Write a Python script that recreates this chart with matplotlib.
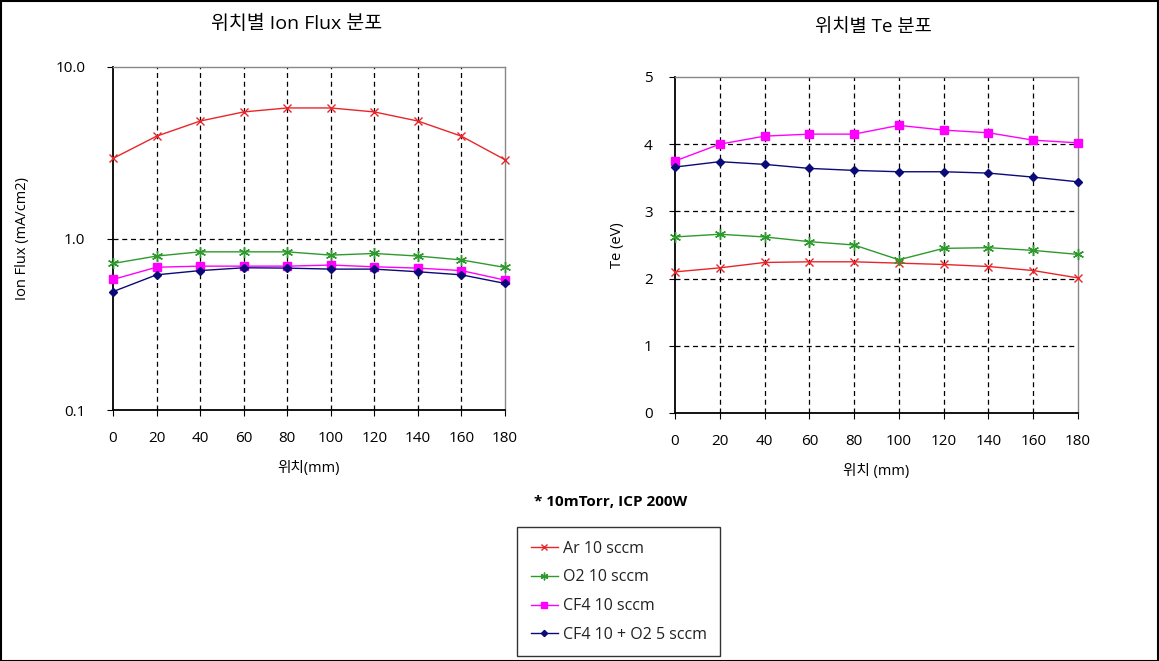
import matplotlib
matplotlib.use("Agg")
import matplotlib.pyplot as plt
import matplotlib.patches as mpatches
from matplotlib.lines import Line2D
from matplotlib.ticker import FixedLocator, NullLocator

plt.rcParams["font.family"] = ["Open Sans", "Noto Sans CJK KR", "DejaVu Sans"]

positions = [0, 20, 40, 60, 80, 100, 120, 140, 160, 180]

series_names = ["Ar 10 sccm", "O2 10 sccm", "CF4 10 sccm", "CF4 10 + O2 5 sccm"]

# ion flux (mA/cm2)
flux_ar = [2.93, 3.95, 4.84, 5.47, 5.77, 5.77, 5.47, 4.84, 3.95, 2.88]
flux_o2 = [0.715, 0.79, 0.836, 0.836, 0.836, 0.80, 0.818, 0.79, 0.75, 0.678]
flux_cf4 = [0.577, 0.68, 0.69, 0.69, 0.69, 0.70, 0.684, 0.672, 0.65, 0.572]
flux_mix = [0.49, 0.614, 0.65, 0.675, 0.672, 0.663, 0.663, 0.64, 0.614, 0.547]

# electron temperature (eV)
te_ar = [2.10, 2.16, 2.24, 2.25, 2.25, 2.23, 2.21, 2.18, 2.12, 2.01]
te_o2 = [2.62, 2.66, 2.62, 2.55, 2.50, 2.28, 2.45, 2.46, 2.42, 2.36]
te_cf4 = [3.75, 4.00, 4.12, 4.15, 4.15, 4.28, 4.21, 4.17, 4.06, 4.02]
te_mix = [3.66, 3.74, 3.70, 3.64, 3.61, 3.59, 3.59, 3.57, 3.51, 3.44]

# ---- styles ----
styles = [
    dict(color="#e8262a", marker="x", markersize=6, markeredgewidth=1.0),
    dict(color="#2e9a2e", marker=(6, 2, 0), markersize=8, markeredgewidth=1.0),
    dict(color="#ff00ff", marker="s", markersize=6),
    dict(color="#0a0a78", marker="D", markersize=4.5),
]

W, H = 1159, 661
fig = plt.figure(figsize=(W / 100, H / 100), dpi=100)
fig.patch.set_facecolor("white")

ax1 = fig.add_axes([113 / W, 1 - 410 / H, 392 / W, 343 / H])
ax2 = fig.add_axes([675 / W, 1 - 413 / H, 403 / W, 336 / H])


def style_axes(ax):
    for side in ("left", "bottom"):
        ax.spines[side].set_color("black")
        ax.spines[side].set_linewidth(1.3)
    for side in ("top", "right"):
        ax.spines[side].set_color("#888888")
        ax.spines[side].set_linewidth(1.0)
    ax.set_xlim(0, 180)
    ax.set_xticks(positions)
    ax.tick_params(axis="x", direction="out", length=4, pad=11, labelsize=11)
    ax.tick_params(axis="y", direction="out", length=4, labelsize=11)
    for x in positions[1:-1]:
        ax.axvline(x, color="black", linestyle=(0, (4, 3)), linewidth=0.9, zorder=1)


# left: ion flux, log scale
style_axes(ax1)
ax1.set_yscale("log")
ax1.set_ylim(0.1, 10)
ax1.yaxis.set_major_locator(FixedLocator([0.1, 1.0, 10.0]))
ax1.yaxis.set_minor_locator(NullLocator())
ax1.set_yticklabels(["0.1", "1.0", "10.0"])
ax1.tick_params(axis="y", pad=16)
ax1.axhline(1.0, color="black", linestyle=(0, (4, 3)), linewidth=0.9, zorder=1)
for vals, st in zip([flux_ar, flux_o2, flux_cf4, flux_mix], styles):
    ax1.plot(positions, vals, linewidth=1.0, zorder=3, clip_on=False, **st)
ax1.set_xlabel("위치(mm)", fontsize=10.5, labelpad=11)
ax1.set_ylabel("Ion Flux (mA/cm2)", fontsize=10.5, labelpad=18)

# right: Te, linear
style_axes(ax2)
ax2.set_ylim(0, 5)
ax2.set_yticks([0, 1, 2, 3, 4, 5])
ax2.tick_params(axis="y", pad=12)
for yv in [1, 2, 3, 4]:
    ax2.axhline(yv, color="black", linestyle=(0, (4, 3)), linewidth=0.9, zorder=1)
for vals, st in zip([te_ar, te_o2, te_cf4, te_mix], styles):
    ax2.plot(positions, vals, linewidth=1.0, zorder=3, clip_on=False, **st)
ax2.set_xlabel("위치 (mm)", fontsize=10.5, labelpad=11)
ax2.set_ylabel("Te (eV)", fontsize=10.5, labelpad=14)

# titles
fig.text(297 / W, 1 - 24 / H, "위치별 Ion Flux 분포", ha="center", va="center",
         fontsize=14)
fig.text(873 / W, 1 - 27 / H, "위치별 Te 분포", ha="center", va="center",
         fontsize=13.5)

# footnote
fig.text(611 / W, 1 - 502 / H, "* 10mTorr, ICP 200W", ha="center", va="center",
         fontsize=11, fontweight="bold")

# legend
handles = [Line2D([], [], linewidth=1.0, **st) for st in styles]
for h, st in zip(handles, styles):
    h.set_markersize(st["markersize"] * 0.7)
leg = fig.legend(handles, series_names, loc="upper left",
                 bbox_to_anchor=(517 / W, 1 - 527 / H), fontsize=11.5,
                 frameon=True, fancybox=False, edgecolor="black",
                 handlelength=1.7, labelspacing=0.8, borderpad=0.85,
                 handletextpad=0.3, borderaxespad=0)
leg.get_frame().set_linewidth(1.0)
for t in leg.get_texts():
    t.set_color("#222222")

# outer frame
fig.add_artist(mpatches.Rectangle((0.5 / W, 0.5 / H), 1 - 1.5 / W, 1 - 1.5 / H,
                                  transform=fig.transFigure, fill=False,
                                  edgecolor="black", linewidth=1.5))

fig.savefig("out.png", dpi=100, facecolor="white")
